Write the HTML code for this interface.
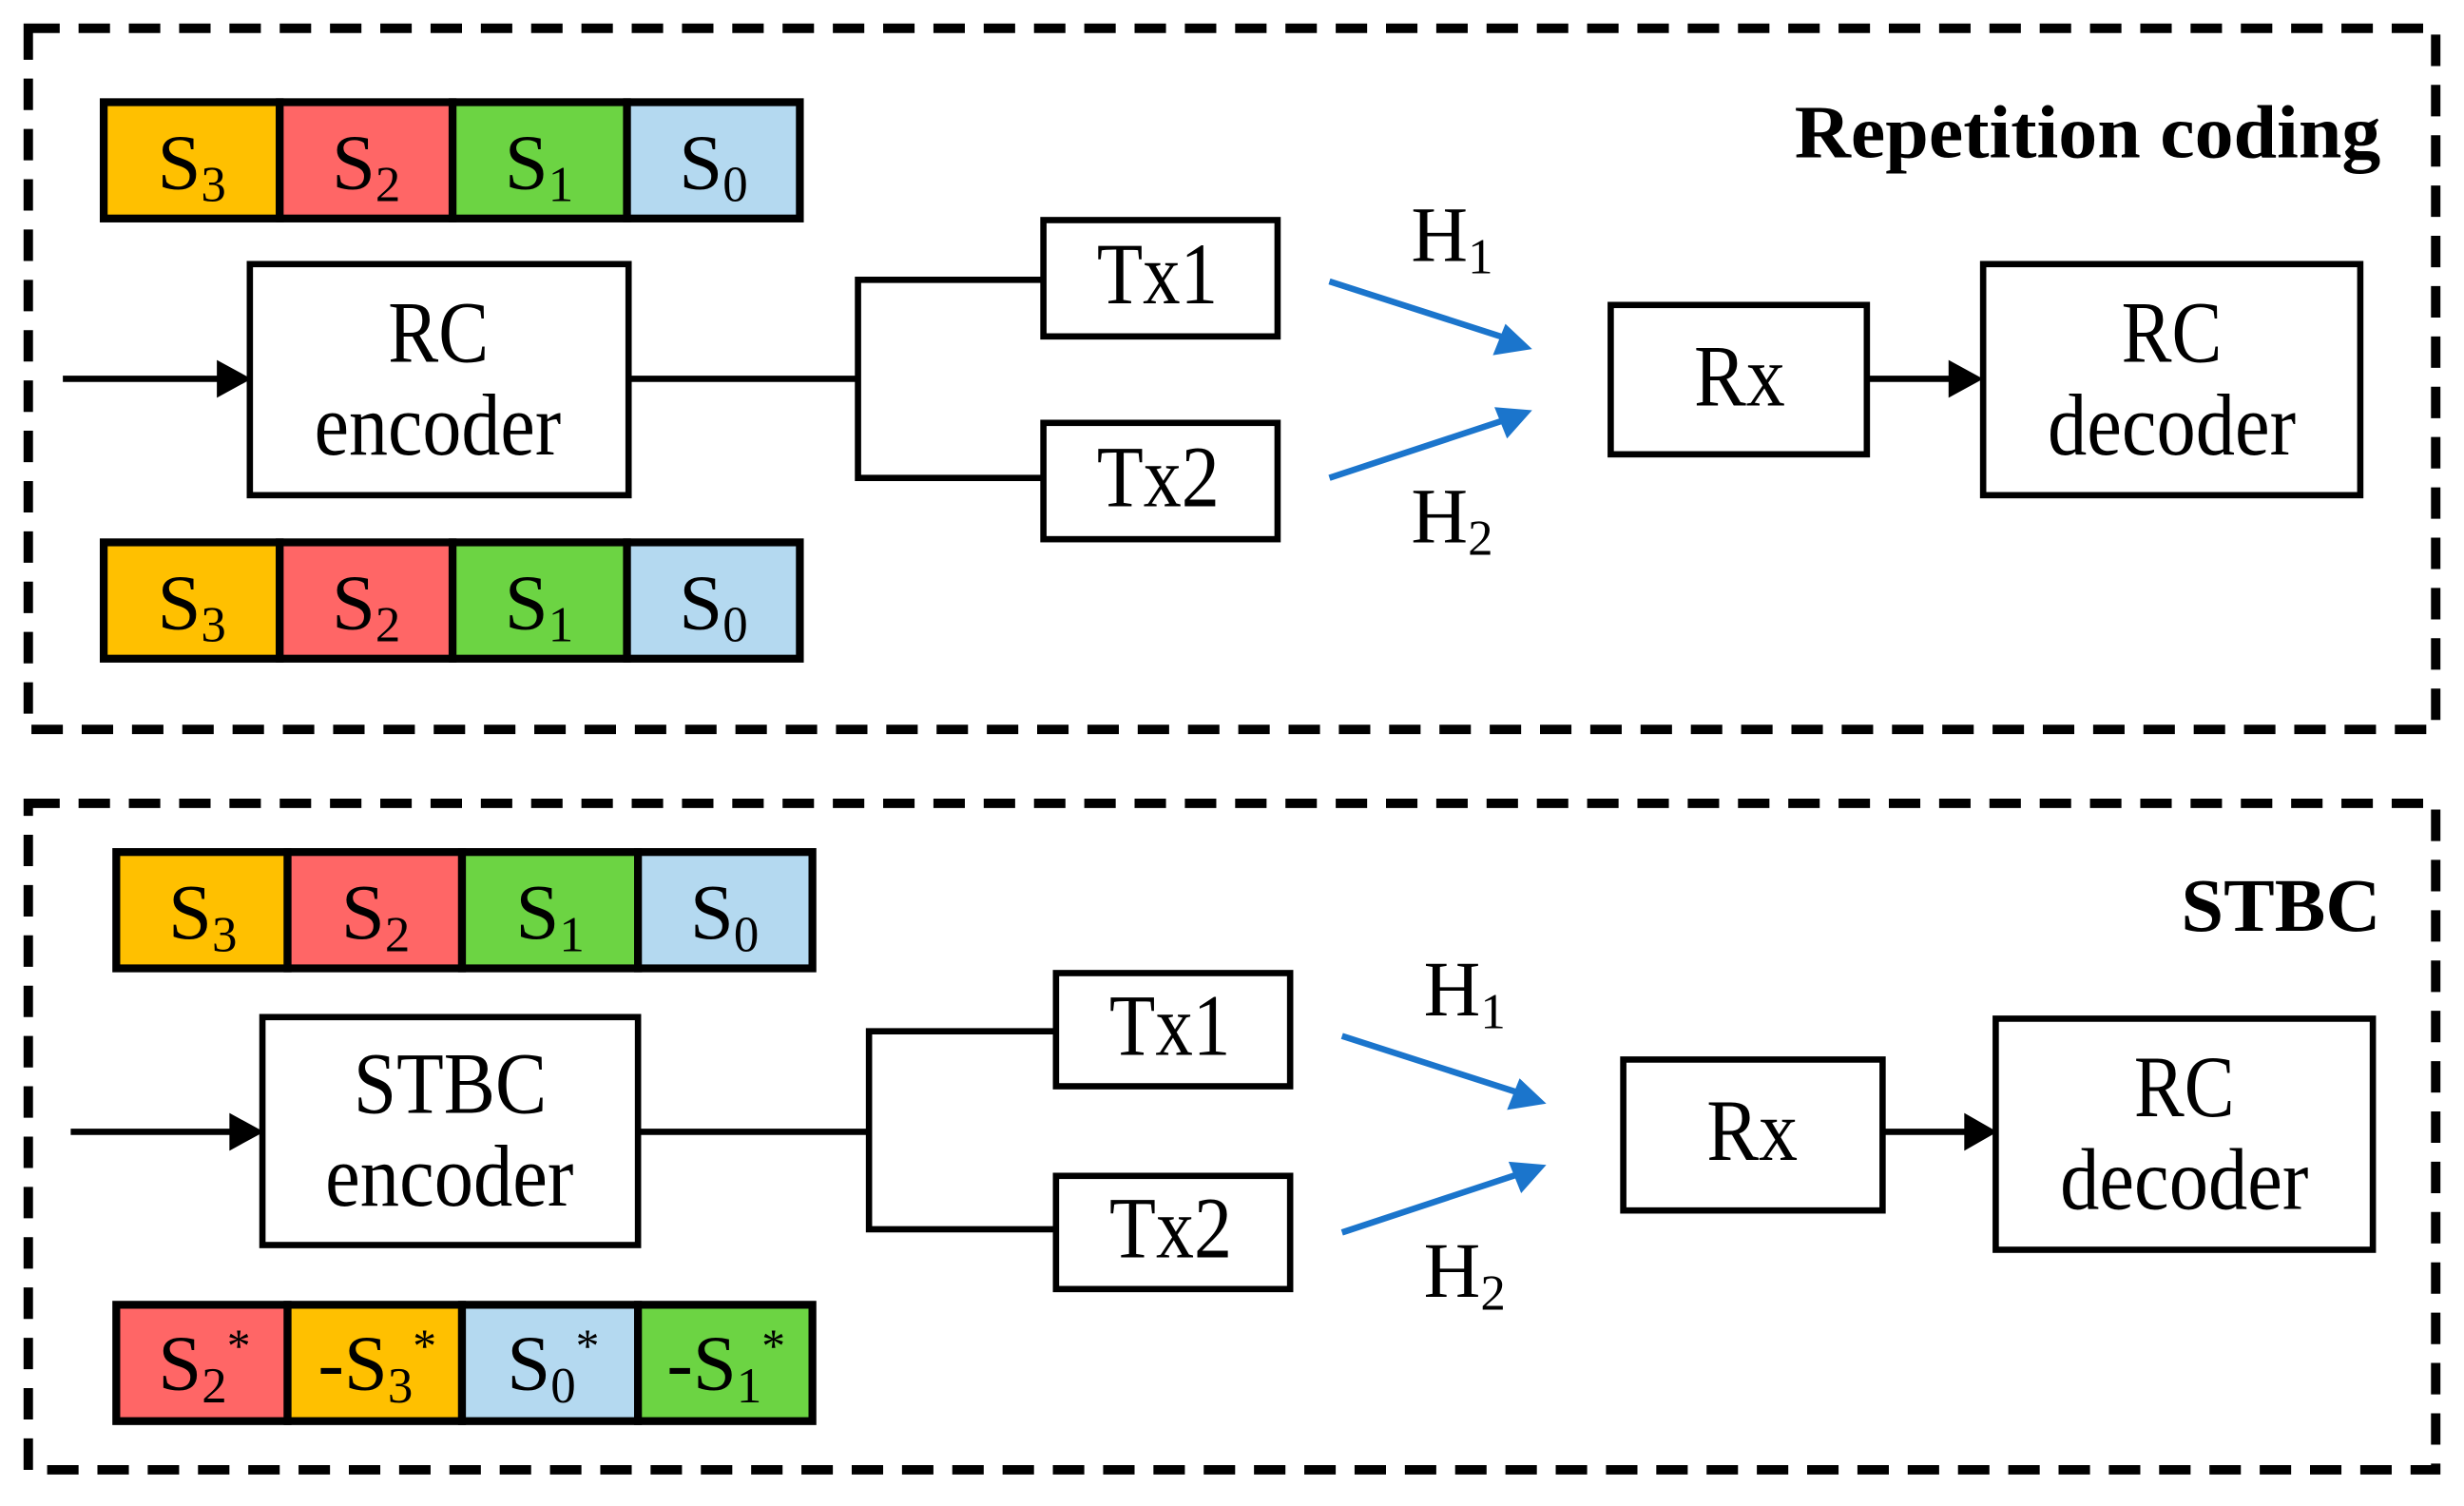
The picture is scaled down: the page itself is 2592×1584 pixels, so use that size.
<!DOCTYPE html>
<html><head><meta charset="utf-8"><style>
html,body{margin:0;padding:0;background:#fff}
svg{display:block}
text{font-family:"Liberation Serif",serif;fill:#000}
</style></head><body>
<svg width="2592" height="1584" viewBox="0 0 1568 958" preserveAspectRatio="none" xmlns="http://www.w3.org/2000/svg">
<g fill="none" stroke="#000" stroke-width="6" stroke-dasharray="20 12">
<rect x="18" y="18" width="1532" height="446"/>
<rect x="18" y="511" width="1532" height="424"/>
</g>
<text x="1142" y="100" font-size="48" font-weight="bold" textLength="373" lengthAdjust="spacingAndGlyphs">Repetition coding</text>
<text x="1388" y="592" font-size="48" font-weight="bold" textLength="127" lengthAdjust="spacingAndGlyphs">STBC</text>

<g stroke="#000" stroke-width="5">
<rect x="66" y="65" width="112" height="74" fill="#FFC000"/><rect x="178" y="65" width="110" height="74" fill="#FF6666"/><rect x="288" y="65" width="111" height="74" fill="#6CD443"/><rect x="399" y="65" width="110" height="74" fill="#B4D9F0"/>
<rect x="66" y="345" width="112" height="74" fill="#FFC000"/><rect x="178" y="345" width="110" height="74" fill="#FF6666"/><rect x="288" y="345" width="111" height="74" fill="#6CD443"/><rect x="399" y="345" width="110" height="74" fill="#B4D9F0"/>
<rect x="74" y="542" width="109" height="74" fill="#FFC000"/><rect x="183" y="542" width="111" height="74" fill="#FF6666"/><rect x="294" y="542" width="112" height="74" fill="#6CD443"/><rect x="406" y="542" width="111" height="74" fill="#B4D9F0"/>
<rect x="74" y="830" width="109" height="74" fill="#FF6666"/><rect x="183" y="830" width="111" height="74" fill="#FFC000"/><rect x="294" y="830" width="112" height="74" fill="#B4D9F0"/><rect x="406" y="830" width="111" height="74" fill="#6CD443"/>
</g>
<g font-size="50" text-anchor="middle">
<text x="122" y="120">S<tspan font-size="32" dy="8">3</tspan></text><text x="233" y="120">S<tspan font-size="32" dy="8">2</tspan></text><text x="343" y="120">S<tspan font-size="32" dy="8">1</tspan></text><text x="454" y="120">S<tspan font-size="32" dy="8">0</tspan></text>
<text x="122" y="400">S<tspan font-size="32" dy="8">3</tspan></text><text x="233" y="400">S<tspan font-size="32" dy="8">2</tspan></text><text x="343" y="400">S<tspan font-size="32" dy="8">1</tspan></text><text x="454" y="400">S<tspan font-size="32" dy="8">0</tspan></text>
<text x="129" y="597">S<tspan font-size="32" dy="8">3</tspan></text><text x="239" y="597">S<tspan font-size="32" dy="8">2</tspan></text><text x="350" y="597">S<tspan font-size="32" dy="8">1</tspan></text><text x="461" y="597">S<tspan font-size="32" dy="8">0</tspan></text>
<text x="130" y="884">S<tspan font-size="32" dy="8">2</tspan><tspan font-size="30" dy="-26">*</tspan></text>
<text x="240" y="884">-S<tspan font-size="32" dy="8">3</tspan><tspan font-size="30" dy="-26">*</tspan></text>
<text x="352" y="884">S<tspan font-size="32" dy="8">0</tspan><tspan font-size="30" dy="-26">*</tspan></text>
<text x="462" y="884">-S<tspan font-size="32" dy="8">1</tspan><tspan font-size="30" dy="-26">*</tspan></text>
</g>

<g fill="#fff" stroke="#000" stroke-width="4">
<rect x="159" y="168" width="241" height="147"/>
<rect x="664" y="140" width="149" height="74"/><rect x="664" y="269" width="149" height="74"/>
<rect x="1025" y="194" width="163" height="95"/><rect x="1262" y="168" width="240" height="147"/>
<rect x="167" y="647" width="239" height="145"/>
<rect x="672" y="619" width="149" height="72"/><rect x="672" y="748" width="149" height="72"/>
<rect x="1033" y="674" width="165" height="96"/><rect x="1270" y="648" width="240" height="147"/>
</g>
<g font-size="56" lengthAdjust="spacingAndGlyphs">
<text x="247" y="230" textLength="64" lengthAdjust="spacingAndGlyphs">RC</text><text x="200" y="289" textLength="157" lengthAdjust="spacingAndGlyphs">encoder</text>
<text x="698" y="193" textLength="77" lengthAdjust="spacingAndGlyphs">Tx1</text><text x="698" y="322" textLength="78" lengthAdjust="spacingAndGlyphs">Tx2</text>
<text x="1078" y="258" textLength="58" lengthAdjust="spacingAndGlyphs">Rx</text>
<text x="1350" y="230" textLength="64" lengthAdjust="spacingAndGlyphs">RC</text><text x="1303" y="289" textLength="158" lengthAdjust="spacingAndGlyphs">decoder</text>
<text x="225" y="708" textLength="123" lengthAdjust="spacingAndGlyphs">STBC</text><text x="207" y="767" textLength="158" lengthAdjust="spacingAndGlyphs">encoder</text>
<text x="706" y="671" textLength="77" lengthAdjust="spacingAndGlyphs">Tx1</text><text x="706" y="800" textLength="78" lengthAdjust="spacingAndGlyphs">Tx2</text>
<text x="1086" y="738" textLength="58" lengthAdjust="spacingAndGlyphs">Rx</text>
<text x="1358" y="710" textLength="64" lengthAdjust="spacingAndGlyphs">RC</text><text x="1311" y="769" textLength="158" lengthAdjust="spacingAndGlyphs">decoder</text>
</g>
<g font-size="50">
<text x="898" y="166">H<tspan font-size="32" dy="8">1</tspan></text>
<text x="898" y="345">H<tspan font-size="32" dy="8">2</tspan></text>
<text x="906" y="646">H<tspan font-size="32" dy="8">1</tspan></text>
<text x="906" y="825">H<tspan font-size="32" dy="8">2</tspan></text>
</g>

<g fill="none" stroke="#000" stroke-width="4">
<path d="M40 241H140"/><path d="M400 241H546M664 178H546V304H664"/>
<path d="M1188 241H1242"/>
<path d="M45 720H148"/><path d="M406 720H553M672 656H553V782H672"/>
<path d="M1198 720H1252"/>
</g>
<g fill="#000">
<path d="M138 229L160 241L138 253z"/><path d="M1240 229L1262 241L1240 253z"/>
<path d="M146 708L168 720L146 732z"/><path d="M1250 708L1271 720L1250 732z"/>
</g>
<g stroke="#1B75CC" stroke-width="4" fill="none">
<path d="M846 179L958 215"/><path d="M846 304L958 267"/>
<path d="M854 659L966 695"/><path d="M854 784L966 747"/>
</g>
<g fill="#1B75CC">
<path d="M975 222L950 226L958 206z"/><path d="M975 261L959 279L951 259z"/>
<path d="M984 702L959 706L967 686z"/><path d="M984 741L968 759L960 739z"/>
</g>
</svg>
</body></html>
